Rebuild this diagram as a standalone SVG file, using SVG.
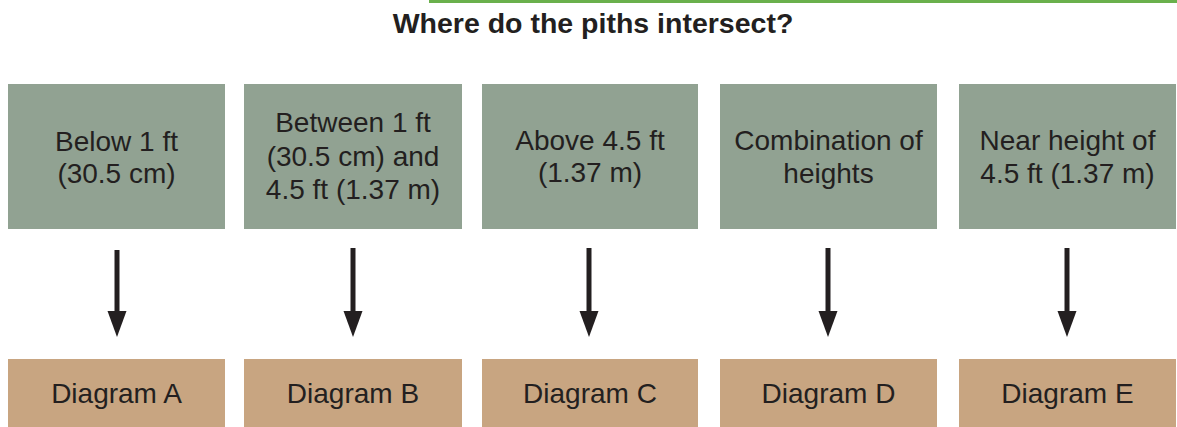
<svg xmlns="http://www.w3.org/2000/svg" width="1177" height="427" viewBox="0 0 1177 427">
<style>
.top{fill:#91a292;}
.bot{fill:#c8a581;}
.t{font-family:"Liberation Sans",Arial,sans-serif;font-size:28px;fill:#231f20;text-anchor:middle;}
.title{font-family:"Liberation Sans",Arial,sans-serif;font-size:28.5px;font-weight:bold;fill:#231f20;text-anchor:middle;}
.shaft{stroke:#231f20;stroke-width:5;fill:none;}
.head{fill:#231f20;}
</style>
<rect x="429" y="0" width="748" height="3" fill="#6ab04c"/>
<text class="title" x="593" y="33">Where do the piths intersect?</text>
<g id="node-q1"><rect class="top" x="8" y="84" width="217" height="145"/><text class="t" x="116.5" y="151">Below 1 ft</text><text class="t" x="116.5" y="183">(30.5 cm)</text></g>
<g id="node-q2"><rect class="top" x="244" y="84" width="218" height="145"/><text class="t" x="353" y="132">Between 1 ft</text><text class="t" x="353" y="166">(30.5 cm) and</text><text class="t" x="353" y="199">4.5 ft (1.37 m)</text></g>
<g id="node-q3"><rect class="top" x="482" y="84" width="216" height="145"/><text class="t" x="590" y="150">Above 4.5 ft</text><text class="t" x="590" y="182">(1.37 m)</text></g>
<g id="node-q4"><rect class="top" x="720" y="84" width="217" height="145"/><text class="t" x="828.5" y="150">Combination of</text><text class="t" x="828.5" y="183">heights</text></g>
<g id="node-q5"><rect class="top" x="959" y="84" width="217" height="145"/><text class="t" x="1067.5" y="150">Near height of</text><text class="t" x="1067.5" y="183">4.5 ft (1.37 m)</text></g>
<g id="node-a"><rect class="bot" x="8" y="359" width="217" height="68"/><text class="t" x="116.5" y="403">Diagram A</text></g>
<g id="node-b"><rect class="bot" x="244" y="359" width="218" height="68"/><text class="t" x="353" y="403">Diagram B</text></g>
<g id="node-c"><rect class="bot" x="482" y="359" width="216" height="68"/><text class="t" x="590" y="403">Diagram C</text></g>
<g id="node-d"><rect class="bot" x="720" y="359" width="217" height="68"/><text class="t" x="828.5" y="403">Diagram D</text></g>
<g id="node-e"><rect class="bot" x="959" y="359" width="217" height="68"/><text class="t" x="1067.5" y="403">Diagram E</text></g>
<g id="connectors">
<line class="shaft" x1="117" y1="250" x2="117" y2="314"/><polygon class="head" points="107.5,311 126.5,311 117,337"/>
<line class="shaft" x1="353" y1="248" x2="353" y2="314"/><polygon class="head" points="343.5,311 362.5,311 353,337"/>
<line class="shaft" x1="589" y1="248" x2="589" y2="314"/><polygon class="head" points="579.5,311 598.5,311 589,337"/>
<line class="shaft" x1="828" y1="248" x2="828" y2="314"/><polygon class="head" points="818.5,311 837.5,311 828,337"/>
<line class="shaft" x1="1067" y1="248" x2="1067" y2="314"/><polygon class="head" points="1057.5,311 1076.5,311 1067,337"/>
</g>
</svg>
